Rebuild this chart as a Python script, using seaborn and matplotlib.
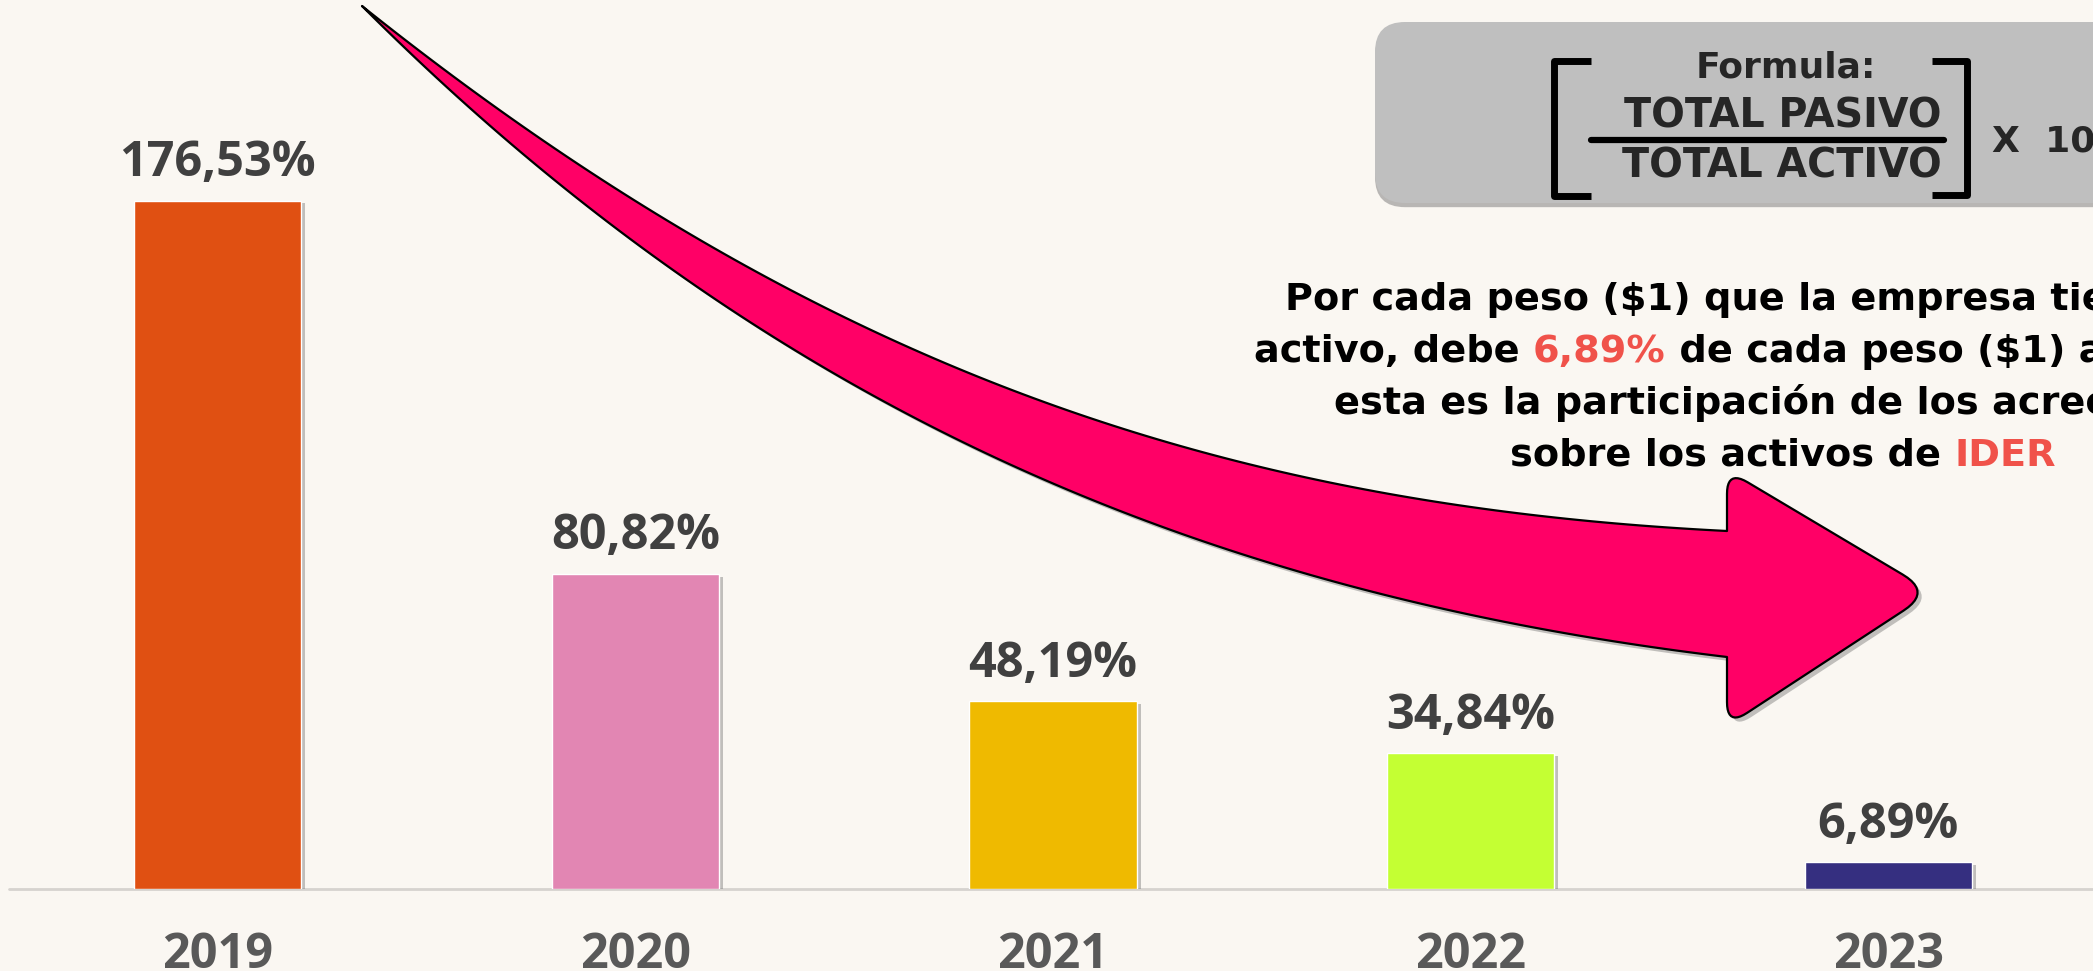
import numpy as np
import pandas as pd
import matplotlib
matplotlib.use("Agg")
import matplotlib.pyplot as plt
import matplotlib.patheffects as pe
from matplotlib.patches import FancyBboxPatch, Polygon
from matplotlib.transforms import blended_transform_factory
import seaborn as sns

# datos
years = ["2019", "2020", "2021", "2022", "2023"]
ratios = [176.53, 80.82, 48.19, 34.84, 6.89]
value_labels = ["176,53%", "80,82%", "48,19%", "34,84%", "6,89%"]
bar_colors = ["#E05012", "#E286B3", "#EFBA00", "#C4FF33", "#352F80"]

text_lines = [
    [("Por cada peso ($1) que la empresa tiene en el", "#000000")],
    [("activo, debe ", "#000000"), ("6,89%", "#F0524A"), (" de cada peso ($1) a terceros,", "#000000")],
    [("esta es la participación de los acreedores", "#000000")],
    [("sobre los activos de ", "#000000"), ("IDER", "#F0524A")],
]

BG = "#FAF7F2"
NUM = ["Open Sans", "DejaVu Sans"]
WIDE = ["DejaVu Sans"]

sns.set_style("white")
plt.rcParams["font.family"] = NUM

W, H = 2093, 971
fig = plt.figure(figsize=(W / 100, H / 100), dpi=100, facecolor=BG)

base_px = 889
ax = fig.add_axes([0.0043, (H - base_px) / H, 0.9976, base_px / H])
ax.set_facecolor(BG)

df = pd.DataFrame({"year": years, "ratio": ratios})
sns.barplot(data=df, x="year", y="ratio", hue="year", palette=bar_colors,
            legend=False, width=0.4, saturation=1, ax=ax)
ax.set_xlim(-0.5, 4.5)
ax.set_ylim(0, base_px / 3.9)
ax.axis("off")
ax.axhline(0, color="#D6D3CF", lw=2, zorder=0, clip_on=False)

shadow = [pe.SimplePatchShadow(offset=(3, -2), shadow_rgbFace="#7a7a7a", alpha=0.45), pe.Normal()]
for p in ax.patches:
    p.set_path_effects(shadow)

for cont, lab in zip(ax.containers, value_labels):
    ax.bar_label(cont, labels=[lab], padding=9, fontsize=35, fontweight="bold",
                 color="#404040")

trans = blended_transform_factory(ax.transData, fig.transFigure)
for p, yr in zip(ax.patches, years):
    ax.text(p.get_x() + p.get_width() / 2, 3 / H, yr, transform=trans,
            ha="center", va="baseline", fontsize=35, fontweight="bold",
            color="#595959", clip_on=False)

# capa de anotaciones en pixeles
ov = fig.add_axes([0, 0, 1, 1])
ov.set_xlim(0, W)
ov.set_ylim(H, 0)
ov.axis("off")
ov.patch.set_visible(False)


def bezier(p0, p1, p2, p3, n=120):
    t = np.linspace(0, 1, n)[:, None]
    p0, p1, p2, p3 = map(np.asarray, (p0, p1, p2, p3))
    return ((1 - t) ** 3 * p0 + 3 * (1 - t) ** 2 * t * p1
            + 3 * (1 - t) * t ** 2 * p2 + t ** 3 * p3)


def rounded(prev, p, nxt, r, n=12):
    prev, p, nxt = map(np.asarray, (prev, p, nxt))
    a = p + (prev - p) / np.linalg.norm(prev - p) * r
    b = p + (nxt - p) / np.linalg.norm(nxt - p) * r
    t = np.linspace(0, 1, n)[:, None]
    return (1 - t) ** 2 * a + 2 * (1 - t) * t * p + t ** 2 * b


tail = (362, 6)
upper = bezier(tail, (820, 372), (1227, 506), (1727, 531))
lower = bezier(tail, (782, 426), (1227, 597), (1727, 657))
top_v, tip_v, bot_v = (1727, 470), (1932, 592), (1727, 726)
head = np.vstack([
    rounded((1727, 531), top_v, tip_v, 24),
    rounded(top_v, tip_v, bot_v, 34),
    rounded(tip_v, bot_v, (1727, 657), 24),
])
outline = np.vstack([upper, head, lower[::-1]])
arrow = Polygon(outline, closed=True, facecolor="#FF0066", edgecolor="#000000",
                lw=1.6, joinstyle="round", zorder=3)
arrow.set_path_effects([pe.SimplePatchShadow(offset=(3, -3), shadow_rgbFace="#555555", alpha=0.35),
                        pe.Normal()])
ov.add_patch(arrow)

# recuadro de la formula
box = FancyBboxPatch((1375, 22), 800, 181, boxstyle="round,pad=0,rounding_size=30",
                     facecolor="#BFBFBF", edgecolor="none", zorder=2)
box.set_path_effects([pe.SimplePatchShadow(offset=(0, -3), shadow_rgbFace="#777777", alpha=0.5),
                      pe.Normal()])
ov.add_patch(box)
ov.plot([1591, 1554, 1554, 1591], [61, 61, 196, 196], color="black", lw=5,
        solid_joinstyle="round", solid_capstyle="butt", zorder=4)
ov.plot([1932, 1967, 1967, 1932], [61, 61, 195, 195], color="black", lw=5,
        solid_joinstyle="round", solid_capstyle="butt", zorder=4)
ov.plot([1591, 1944], [140, 140], color="black", lw=4.5, zorder=4)
ov.text(1786, 77, "Formula:", family=WIDE, fontsize=26, fontweight="bold",
        ha="center", va="baseline", zorder=5)
ov.text(1942, 128, "TOTAL PASIVO", family=WIDE, fontsize=28.5, fontweight="bold",
        ha="right", va="baseline", zorder=5)
ov.text(1942, 177, "TOTAL ACTIVO", family=WIDE, fontsize=28.5, fontweight="bold",
        ha="right", va="baseline", zorder=5)
ov.text(1992, 152, "X  100", family=WIDE, fontsize=26, fontweight="bold", ha="left",
        va="baseline", zorder=5)

# texto explicativo con palabras resaltadas
renderer = fig.canvas.get_renderer()
PARA = dict(family=WIDE, fontsize=27.5, fontweight="bold")


def text_width(s):
    t = ov.text(0, 0, s + "I", **PARA)
    w = t.get_window_extent(renderer).width
    t.remove()
    t = ov.text(0, 0, "I", **PARA)
    w -= t.get_window_extent(renderer).width
    t.remove()
    return w


xc = 1783
for line, yb in zip(text_lines, [310, 362, 414, 466]):
    full = "".join(s for s, _ in line)
    x0 = xc - text_width(full) / 2
    prefix = ""
    for s, c in line:
        ov.text(x0 + text_width(prefix), yb, s, color=c, ha="left", va="baseline",
                zorder=5, **PARA)
        prefix += s

fig.savefig("out.png", dpi=100, facecolor=BG)
